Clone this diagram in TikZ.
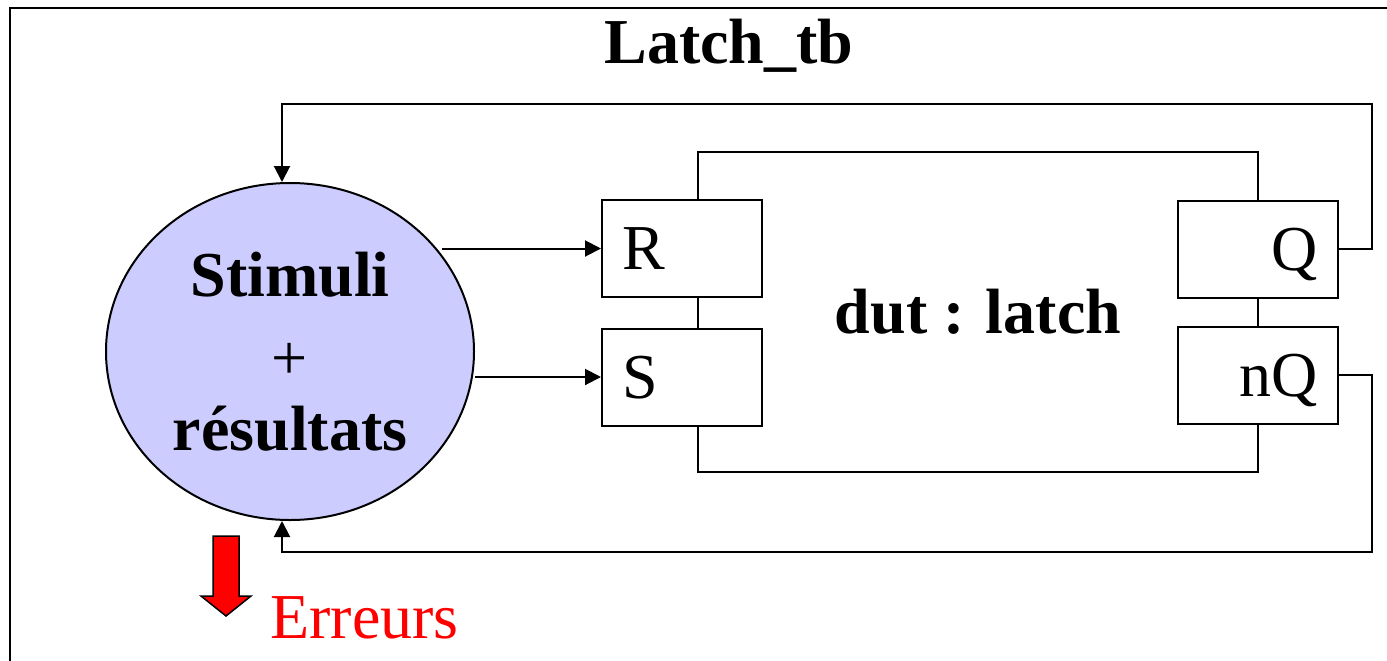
\documentclass[tikz,border=0pt]{standalone}
\usepackage{fontspec}
\setmainfont{Liberation Serif}
\usetikzlibrary{shapes.geometric,arrows.meta}
\definecolor{stimfill}{RGB}{204,204,255}
\begin{document}
\begin{tikzpicture}[x=0.5pt,y=-0.5pt,
  bigtext/.style={font=\fontsize{32}{38.5}\selectfont},
  bigbold/.style={font=\fontsize{32}{38.5}\selectfont\bfseries},
  wire/.style={line width=1pt},
  arr/.style={line width=1pt,-{Triangle[length=8pt,width=8pt]}},
  port/.style={draw,line width=1pt,fill=white,minimum height=48.5pt,
    text width=60pt,inner xsep=10pt,inner ysep=0pt,text depth=0pt,
    font=\fontsize{32}{38.5}\selectfont}]
\clip (0,0) rectangle (1387,660);
% outer test-bench frame
\draw[line width=1.3pt] (10,8) rectangle (1420,720);
\node[bigbold,anchor=base,inner sep=0pt] (title) at (729,63) {Latch\_tb};

% device under test
\node[draw,line width=1pt,minimum width=280pt,minimum height=160pt,
  inner sep=0pt,bigbold] (dut) at (978,312) {dut : latch};
\node[port,align=left] (R) at (682,248.5) {R};
\node[port,align=left] (S) at (682,377) {S};
\node[port,align=right] (Q) at (1258,249) {Q};
\node[port,align=right] (nQ) at (1258,375) {nQ};

% stimulus / checker process
\node[ellipse,draw,line width=1pt,fill=stimfill,minimum width=184pt,
  minimum height=168.5pt,inner sep=0pt,align=center,bigbold]
  (stim) at (290,351.5) {Stimuli\\{\mdseries\raisebox{-3pt}{+}}\\résultats};

% inputs
\coordinate (rin) at (442,248.5);
\draw[arr] (rin) -- (R.west);
\draw[arr] (stim.east |- S.west) -- (S.west);

% feedback of the outputs
\coordinate (tfb) at (282,104);
\coordinate (bfb) at (282,552);
\draw[arr] (Q.east) -- ++(33,0) |- (tfb) -- (tfb |- stim.north);
\draw[arr] (nQ.east) -- ++(33,0) |- (bfb) -- (bfb |- stim.south);

% error output
\draw[line width=0.75pt,fill=red] (213,536) -- (239,536) -- (239,596)
  -- (251,596) -- (226,616) -- (201,596) -- (213,596) -- cycle;
\node[bigtext,text=red,anchor=base west,inner sep=0pt] (err) at (270,638) {Erreurs};
\end{tikzpicture}
\end{document}
